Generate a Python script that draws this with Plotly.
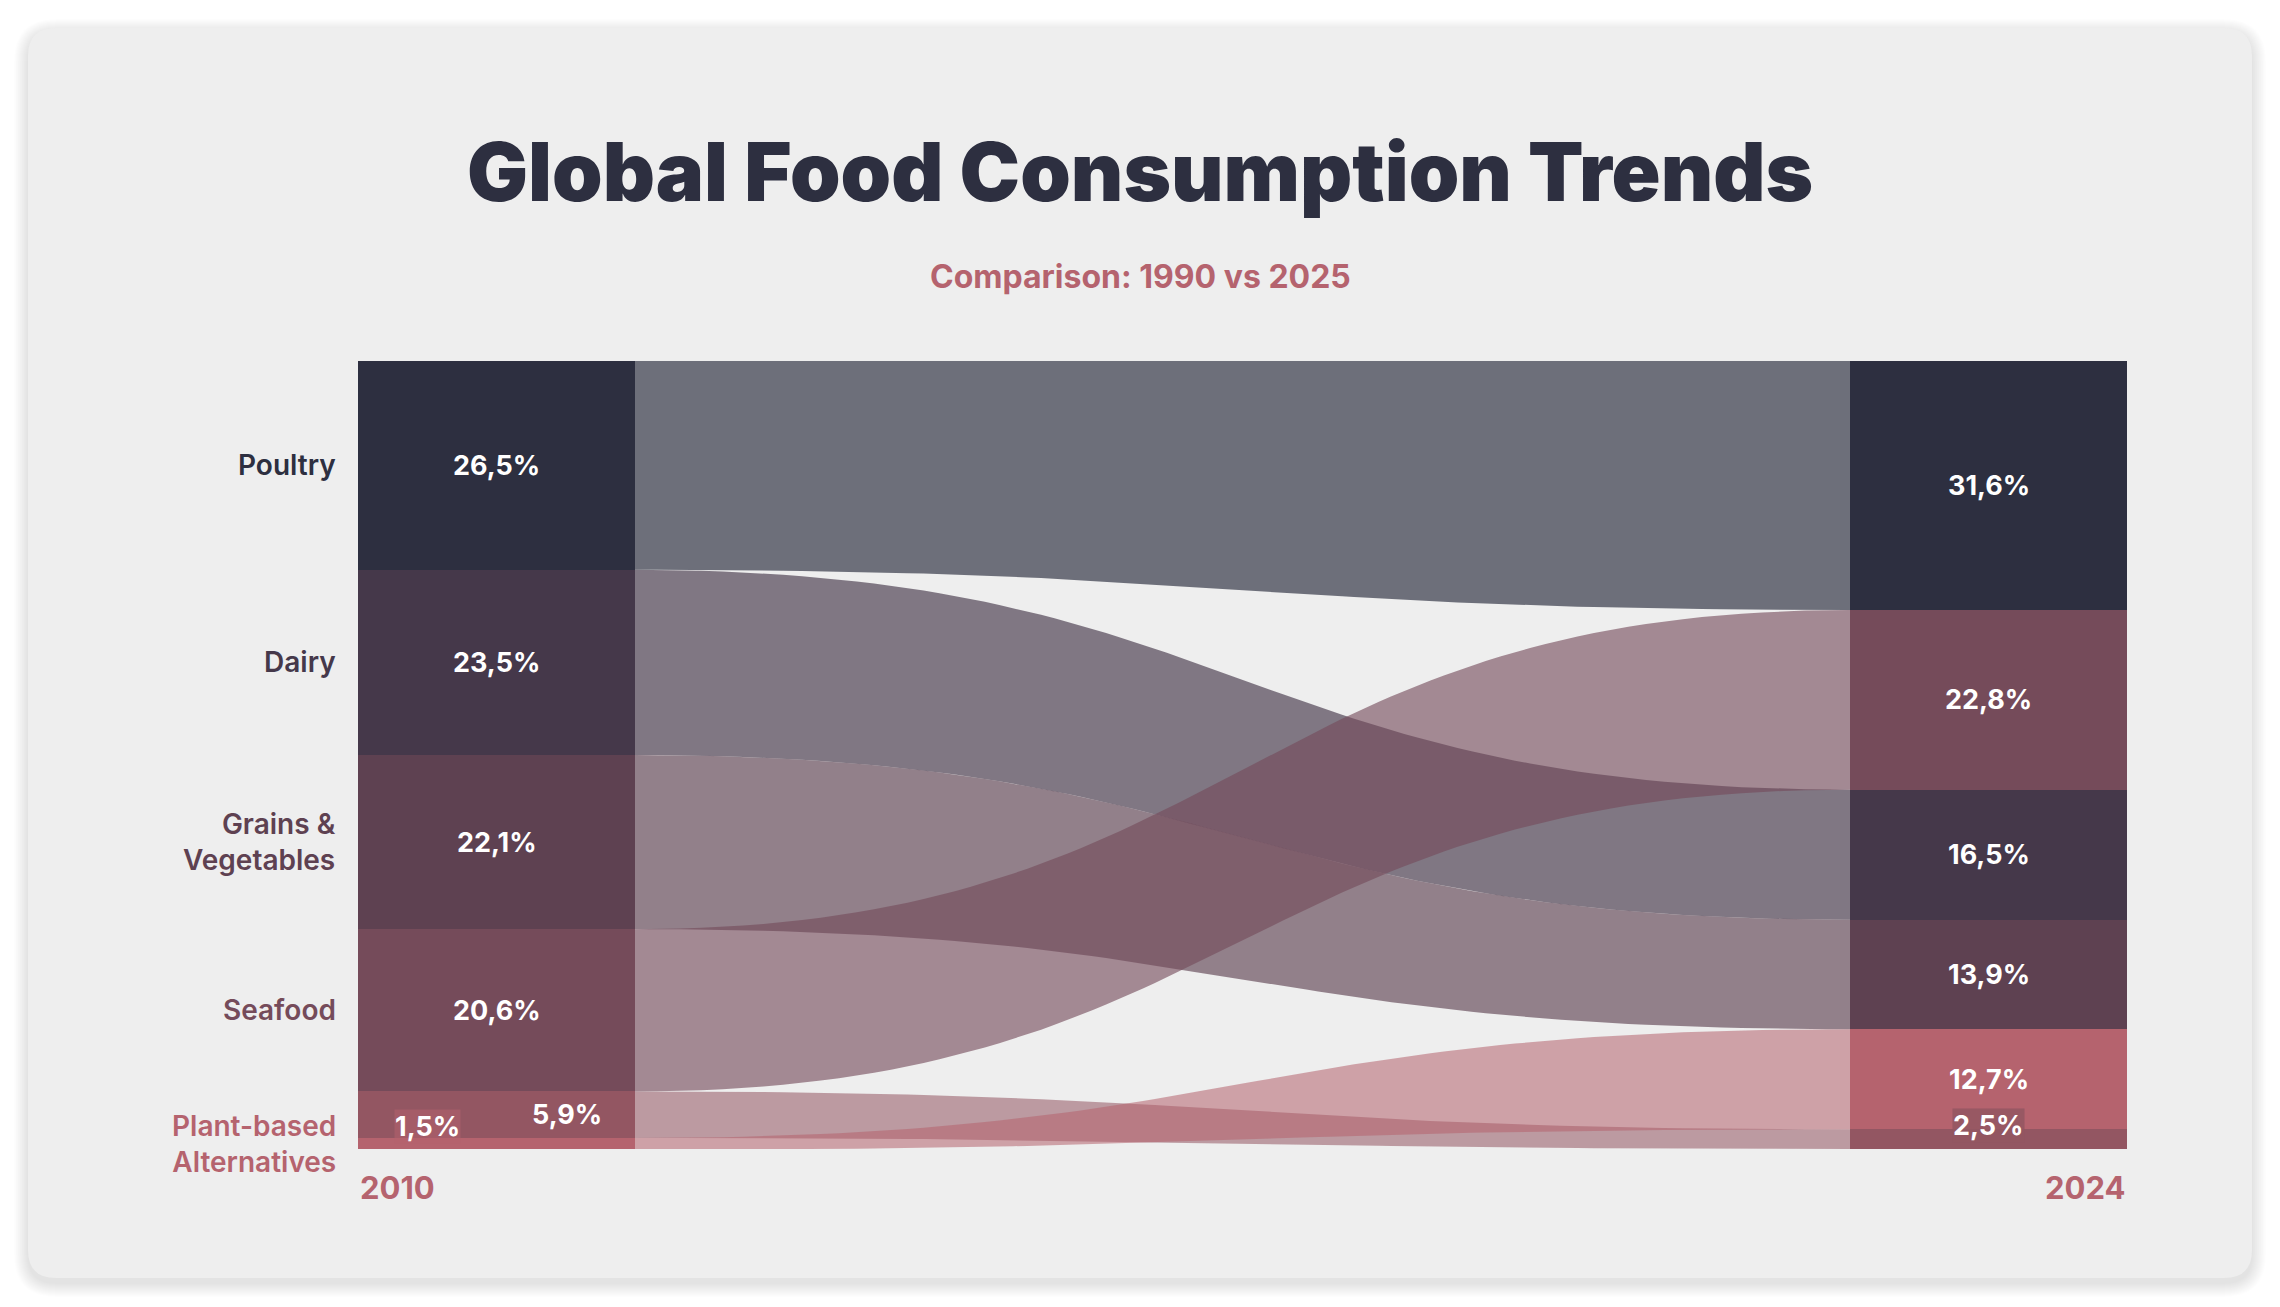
import numpy as np
import plotly.graph_objects as go

# data
categories = ['Poultry', 'Dairy', 'Grains & Vegetables', 'Seafood', 'Other', 'Plant-based Alternatives']
side_labels = ['Poultry', 'Dairy', 'Grains &<br>Vegetables', 'Seafood', '', 'Plant-based<br>Alternatives']
share_2010 = [26.5, 23.5, 22.1, 20.6, 5.9, 1.5]
share_2024 = [31.6, 16.5, 13.9, 22.8, 2.5, 12.7]
years = ['2010', '2024']

node_colors = ['#2d2f40', '#45384a', '#5e4151', '#754b5a', '#935662', '#b5636e']
link_alpha = [0.67, 0.65, 0.64, 0.62, 0.55, 0.55]

# figure geometry (px)
W, H = 2280, 1307
ML, MR, MT, MB = 358, 153, 361, 158
PW, PH = W - ML - MR, H - MT - MB
node_w = 277 / PW


def px_x(p):
    return (p - ML) / PW


def px_y(p):
    return (H - MB - p) / PH


def rgba(hexcol, a):
    h = hexcol.lstrip('#')
    r, g, b = int(h[0:2], 16), int(h[2:4], 16), int(h[4:6], 16)
    return f'rgba({r},{g},{b},{a})'


def fmt(v):
    return f'{v:.1f}'.replace('.', ',') + '%'


def rounded_rect(x0, y0, x1, y1, r):
    pts = [
        ('M', [(x0 + r, y0)]), ('L', [(x1 - r, y0)]), ('Q', [(x1, y0), (x1, y0 + r)]),
        ('L', [(x1, y1 - r)]), ('Q', [(x1, y1), (x1 - r, y1)]),
        ('L', [(x0 + r, y1)]), ('Q', [(x0, y1), (x0, y1 - r)]),
        ('L', [(x0, y0 + r)]), ('Q', [(x0, y0), (x0 + r, y0)]),
    ]
    path = ''
    for cmd, ps in pts:
        path += cmd + ' ' + ' '.join(f'{px_x(a):.5f},{px_y(b):.5f}' for a, b in ps) + ' '
    return path + 'Z'


# stacking positions
n = len(categories)
top_l = np.concatenate([[0], np.cumsum(share_2010)[:-1]])
order_r = sorted(range(n), key=lambda i: -share_2024[i])
top_r = np.zeros(n)
acc = 0
for i in order_r:
    top_r[i] = acc
    acc += share_2024[i]

xl = node_w / 2
xr = 1 - node_w / 2

fig = go.Figure()

# flows
t = np.linspace(0, 1, 80)
xa, xb = node_w, 1 - node_w
xm = (xa + xb) / 2
bx = (1 - t) ** 3 * xa + 3 * (1 - t) ** 2 * t * xm + 3 * (1 - t) * t ** 2 * xm + t ** 3 * xb
s = 3 * t ** 2 - 2 * t ** 3
for i in range(n):
    y_top = top_l[i] + (top_r[i] - top_l[i]) * s
    y_bot = (top_l[i] + share_2010[i]) + ((top_r[i] + share_2024[i]) - (top_l[i] + share_2010[i])) * s
    fig.add_trace(go.Scatter(
        x=np.concatenate([bx, bx[::-1]]), y=np.concatenate([y_top, y_bot[::-1]]),
        fill='toself', fillcolor=rgba(node_colors[i], link_alpha[i]),
        mode='lines', line=dict(width=0), hoverinfo='skip', showlegend=False))

# nodes
fig.add_trace(go.Bar(x=[xl] * n, y=share_2010, base=top_l, width=node_w,
                     marker=dict(color=node_colors, line=dict(width=0)),
                     hoverinfo='skip', showlegend=False))
fig.add_trace(go.Bar(x=[xr] * n, y=share_2024, base=top_r, width=node_w,
                     marker=dict(color=node_colors, line=dict(width=0)),
                     hoverinfo='skip', showlegend=False))

annotations = []
# category labels
for i in range(n):
    if side_labels[i]:
        annotations.append(dict(x=0, y=top_l[i] + share_2010[i] / 2, xref='x', yref='y',
                                text=side_labels[i], showarrow=False, xanchor='right', xshift=-20,
                                align='right',
                                font=dict(family='Inter', size=28, color=node_colors[i], weight=600)))

# value labels (small ones nudged so they don't collide)
nudge_2010 = {4: (70, 0), 5: (-69, 17)}
nudge_2024 = {4: (0, 14)}
label_bg_2010 = {5: rgba(node_colors[5], 0.55)}
label_bg_2024 = {4: rgba(node_colors[4], 0.85)}
for vals, tops, xc, nudge, bgs in [(share_2010, top_l, xl, nudge_2010, label_bg_2010),
                                   (share_2024, top_r, xr, nudge_2024, label_bg_2024)]:
    for i in range(n):
        dx, dy = nudge.get(i, (0, 0))
        annotations.append(dict(x=xc, y=tops[i] + vals[i] / 2, xref='x', yref='y',
                                text=fmt(vals[i]), showarrow=False, xshift=dx, yshift=dy,
                                bgcolor=bgs.get(i, 'rgba(0,0,0,0)'), borderpad=0,
                                font=dict(family='Inter', size=27, color='white', weight=700)))

# year labels
annotations.append(dict(x=0, y=100, xref='x', yref='y', text=years[0], showarrow=False,
                        xanchor='left', yanchor='top', yshift=-18,
                        font=dict(family='Inter', size=31, color='#b5636e', weight=700)))
annotations.append(dict(x=1, y=100, xref='x', yref='y', text=years[1], showarrow=False,
                        xanchor='right', yanchor='top', yshift=-18,
                        font=dict(family='Inter', size=31, color='#b5636e', weight=700)))

# title and subtitle
annotations.append(dict(x=px_x(W / 2), y=px_y(172), xref='paper', yref='paper',
                        text='Global Food Consumption Trends', showarrow=False,
                        xanchor='center', yanchor='middle',
                        font=dict(family='Inter', size=81, color='#2d2f40', weight=900)))
annotations.append(dict(x=px_x(W / 2), y=px_y(276), xref='paper', yref='paper',
                        text='Comparison: 1990 vs 2025', showarrow=False,
                        xanchor='center', yanchor='middle',
                        font=dict(family='Inter', size=32, color='#b5636e', weight=700)))

# card with a soft shadow
shapes = []
for k in range(14, 0, -1):
    shapes.append(dict(type='path', xref='paper', yref='paper', layer='below',
                       path=rounded_rect(28 - k, 28 - k + 5, 2252 + k, 1278 + k + 5, 28 + k),
                       fillcolor='rgba(0,0,0,0.008)', line=dict(width=0)))
shapes.append(dict(type='path', xref='paper', yref='paper', layer='below',
                   path=rounded_rect(28, 28, 2252, 1278, 28),
                   fillcolor='#eeeeee', line=dict(width=0)))

fig.update_layout(
    width=W, height=H,
    margin=dict(l=ML, r=MR, t=MT, b=MB),
    paper_bgcolor='#ffffff', plot_bgcolor='rgba(0,0,0,0)',
    barmode='overlay', bargap=0,
    xaxis=dict(range=[0, 1], visible=False, fixedrange=True),
    yaxis=dict(range=[100, 0], visible=False, fixedrange=True),
    annotations=annotations, shapes=shapes,
    showlegend=False,
)

fig.write_html('out.html', config={'displayModeBar': False},
               post_script="document.body.style.margin='0';")
